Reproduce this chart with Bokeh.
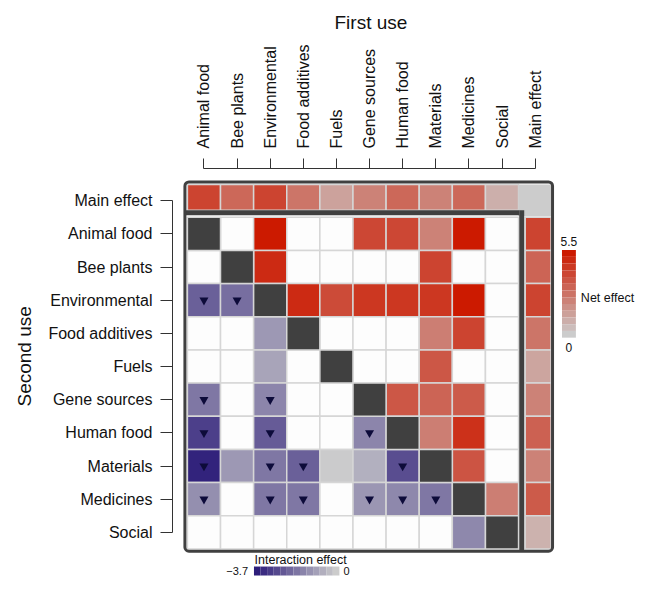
import numpy as np
from bokeh.plotting import figure
from bokeh.models import Range1d, FixedTicker, LinearAxis, Title
from bokeh.embed import file_html
from bokeh.resources import INLINE
from bokeh.core.properties import value

# ---------------- data ----------------
uses = ["Animal food", "Bee plants", "Environmental", "Food additives", "Fuels",
        "Gene sources", "Human food", "Materials", "Medicines", "Social"]
main_label = "Main effect"

# main effect of each use when it is the first use (top row)
main_first = [4.2, 3.1, 4.2, 2.7, 1.3, 2.3, 3.1, 2.3, 3.1, 0.9]
# main effect of each use when it is the second use (right column)
main_second = [4.2, 3.2, 4.2, 2.7, 1.2, 2.3, 3.3, 2.3, 3.5, 0.8]

N = None
# rows = second use, columns = first use
# positive = net effect, negative = interaction effect, None = not significant
matrix = [
    [N,    N,    5.5,  N,    N,     4.1,   4.1,   2.3,  5.5,   N],
    [N,    N,    5.0,  N,    N,     N,     N,     4.2,  N,     N],
    [-2.3, -2.0, N,    5.0,  4.0,   4.6,   4.6,   4.6,  5.5,   N],
    [N,    N,    -1.1, N,    N,     N,     N,     2.4,  4.2,   N],
    [N,    N,    -0.85, N,   N,     N,     N,     3.6,  N,     N],
    [-1.8, N,    -1.5, N,    N,     N,     3.6,   3.2,  3.5,   N],
    [-3.0, N,    -2.4, N,    N,     -1.5,  N,     2.4,  4.8,   N],
    [-3.6, -1.1, -1.8, -2.3, -0.02, -0.6,  -2.7,  N,    3.7,   N],
    [-1.3, N,    -1.8, -1.8, N,     -1.15, -1.45, -1.8, N,     2.4],
    [N,    N,    N,    N,    N,     N,     N,     N,    -1.45, N],
]
# significant negative interactions (row, col) marked with a triangle
marked = [(2, 0), (2, 1), (5, 0), (5, 2), (6, 0), (6, 2), (6, 5),
          (7, 0), (7, 2), (7, 3), (7, 6),
          (8, 0), (8, 2), (8, 3), (8, 5), (8, 6), (8, 7)]

net_max = 5.5
int_min = -3.7
net_ticks = ["5.5", "0"]
int_ticks = ["\u22123.7", "0"]

# ---------------- styling / geometry ----------------
FONT = "Liberation Sans"
W, H = 635, 577            # figure size
OX, OY = 1, 1              # picture px of the canvas origin
FL, FT = 170, 167          # picture px of the frame's left / top edge
S = 33.33                  # cell pitch (px)
X0, Y0 = 185, 216          # picture px of grid origin


def u(px):
    return (px - X0) / S


def v(py):
    return (py - Y0) / S


def hexc(r, g, b):
    return "#%02x%02x%02x" % (int(round(r)), int(round(g)), int(round(b)))


def net_color(val):
    f = min(max(val / net_max, 0.0), 1.0)
    return hexc(204, 204 - 178 * f, 204 - 204 * f)


def int_color(val):
    f = min(max(val / int_min, 0.0), 1.0)
    return hexc(204 - 158 * f, 204 - 174 * f, 204 - 82 * f)


def cell_color(val):
    if val is None:
        return "#fdfdfd"
    return net_color(val) if val >= 0 else int_color(val)


FR, FB = OX + W, OY + H
p = figure(width=W, height=H,
           x_range=Range1d(u(FL), u(FR)), y_range=Range1d(v(FB), v(FT)),
           output_backend="svg", toolbar_location=None,
           x_axis_location=None, y_axis_location=None,
           min_border_left=FL - OX, min_border_top=FT - OY,
           min_border_right=0, min_border_bottom=0)
p.xgrid.visible = False
p.ygrid.visible = False
p.outline_line_color = None
p.background_fill_color = "white"
p.border_fill_color = "white"

n = len(uses)

# axes
xticks = [i + 0.5 for i in range(n)] + [n + 0.5]
xaxis = LinearAxis(ticker=FixedTicker(ticks=xticks),
                   major_label_overrides={t: l for t, l in zip(xticks, uses + [main_label])},
                   bounds=(xticks[0], xticks[-1]))
p.add_layout(xaxis, "above")
yticks = [-0.5] + [i + 0.5 for i in range(n)]
yaxis = LinearAxis(ticker=FixedTicker(ticks=yticks),
                   major_label_overrides={t: l for t, l in zip(yticks, [main_label] + uses)},
                   bounds=(yticks[0], yticks[-1]))
p.add_layout(yaxis, "left")

for ax in (xaxis, yaxis):
    ax.axis_line_color = "#333333"
    ax.major_tick_line_color = "#333333"
    ax.minor_tick_line_color = None
    ax.major_tick_in = 0
    ax.major_label_text_font = FONT
    ax.major_label_text_font_size = "16px"
    ax.major_label_text_color = "#111111"
xaxis.major_label_orientation = np.pi / 2
xaxis.major_tick_out = 10
xaxis.major_label_standoff = 10
yaxis.major_tick_out = 12
yaxis.major_label_standoff = 8

t_first = Title(text="First use", align="left", offset=332 - FL,
                text_font=FONT, text_font_size="19px", text_font_style="normal",
                text_color="#111111", standoff=18)
p.add_layout(t_first, "above")
t_second = Title(text="Second use", align="left", offset=FB - 407,
                 text_font=FONT, text_font_size="19px", text_font_style="normal",
                 text_color="#111111", standoff=22)
p.add_layout(t_second, "left")

# matrix cells
L, R, T, B, C = [], [], [], [], []
DL, DR, DT, DB = [], [], [], []
for r in range(n):
    for c in range(n):
        if r == c:
            DL.append(c); DR.append(c + 1); DT.append(r); DB.append(r + 1)
        else:
            L.append(c); R.append(c + 1); T.append(r); B.append(r + 1)
            C.append(cell_color(matrix[r][c]))
p.quad(left=L, right=R, top=T, bottom=B, fill_color=C,
       line_color="#d6d6d6", line_width=1.5)
p.quad(left=DL, right=DR, top=DT, bottom=DB, fill_color="#404040",
       line_color="#d6d6d6", line_width=1.5)

# main effect row (top)
me_top, me_bot = v(183), v(209)
p.quad(left=list(range(n)), right=[i + 1 for i in range(n)],
       top=[me_top] * n, bottom=[me_bot] * n,
       fill_color=[net_color(x) for x in main_first],
       line_color="#d6d6d6", line_width=1.5)
# main effect column (right)
mc_l, mc_r = u(525), u(551)
p.quad(left=[mc_l] * n, right=[mc_r] * n,
       top=list(range(n)), bottom=[i + 1 for i in range(n)],
       fill_color=[net_color(x) for x in main_second],
       line_color="#d6d6d6", line_width=1.5)

# corner grey cell and separator bars
p.quad(left=[u(518)], right=[u(551)], top=[v(183)], bottom=[v(215)],
       fill_color="#cccccc", line_color=None)
p.quad(left=[u(183)], right=[u(519)], top=[v(209)], bottom=[v(214)],
       fill_color="#404040", line_color=None)
p.quad(left=[u(519)], right=[u(524)], top=[v(209)], bottom=[v(551)],
       fill_color="#404040", line_color=None)

# outer frame
p.quad(left=[u(182.5)], right=[u(552.5)], top=[v(180.5)], bottom=[v(551.5)],
       fill_color=None, line_color="#404040", line_width=3, border_radius=4)

# triangles
p.scatter(x=[c + 0.5 for r, c in marked], y=[r + 0.5 for r, c in marked],
          marker="inverted_triangle", size=9, fill_color="#0d0b3a", line_color=None)

# ---------------- legends ----------------
# net effect colorbar (vertical)
steps = 13
nv = np.linspace(net_max, 0, steps)
ys = np.linspace(249, 337, steps + 1)
p.quad(left=[u(562)] * steps, right=[u(576)] * steps,
       top=[v(y) for y in ys[:-1]], bottom=[v(y) for y in ys[1:]],
       fill_color=[net_color(x) for x in nv], line_color=None)
p.text(x=[u(569), u(569)], y=[v(240), v(347)], text=net_ticks,
       text_font=value(FONT), text_font_size="12px", text_color="#111111",
       text_align="center", text_baseline="middle")
p.text(x=[u(581)], y=[v(297)], text=["Net effect"],
       text_font=value(FONT), text_font_size="12.5px", text_color="#111111",
       text_align="left", text_baseline="middle")

# interaction colorbar (horizontal)
iv = np.linspace(int_min, 0, steps)
xs = np.linspace(252, 338, steps + 1)
p.quad(left=[u(x) for x in xs[:-1]], right=[u(x) for x in xs[1:]],
       top=[v(567)] * steps, bottom=[v(576)] * steps,
       fill_color=[int_color(x) for x in iv], line_color=None)
p.text(x=[u(246), u(342)], y=[v(571), v(571)], text=int_ticks,
       text_font=value(FONT), text_font_size="11px", text_color="#111111",
       text_align=["right", "left"], text_baseline="middle")
p.text(x=[u(299)], y=[v(560)], text=["Interaction effect"],
       text_font=value(FONT), text_font_size="12.5px", text_color="#111111",
       text_align="center", text_baseline="middle")

open("out.html", "w").write(file_html(p, INLINE))
